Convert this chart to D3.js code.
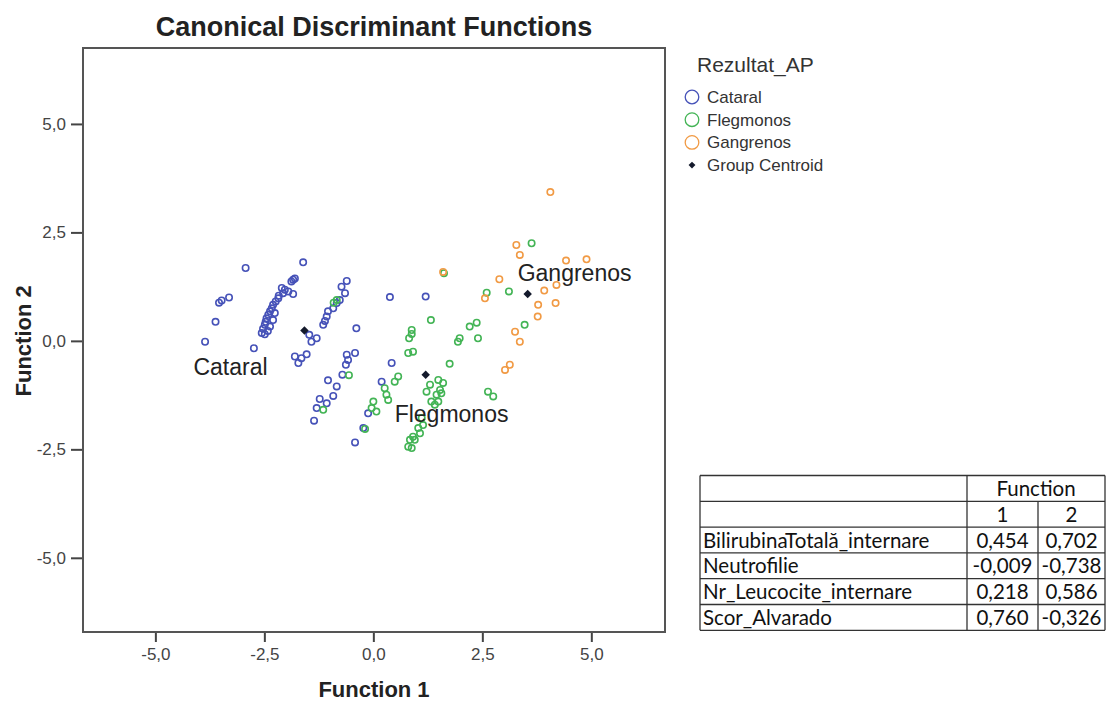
<!DOCTYPE html>
<html>
<head>
<meta charset="utf-8">
<script src="https://cdn.jsdelivr.net/npm/d3@7"></script>
<style>
  html, body { margin: 0; padding: 0; background: #fff; }
  svg { display: block; }
</style>
</head>
<body>
<svg id="chart" width="1107" height="704"></svg>
<script>
// Discriminant scores (Function 1, Function 2)
const cataralF1 = [-2.93, -1.61, -3.31, -3.48, -3.54, -3.62, -3.86, -2.74, -1.84, -1.80, -1.88, -2.03, -2.07, -1.95,
  -1.84, -2.18, -2.24, -2.30, -2.33, -2.37, -2.41, -2.45, -2.47, -2.49, -2.53, -2.56, -2.49, -2.37, -2.30, -2.26,
  -2.42, -2.17, -2.10, -1.47, -1.42, -1.30, -1.80, -1.72, -1.65, -1.53, -0.61, -0.73, -0.65, -0.77, -0.84, -0.92,
  -1.04, -1.07, -1.11, -1.15, -0.39, -0.61, -0.42, -0.58, -0.63, -0.71, 0.42, 1.20, 0.38, 0.19, -1.04, -0.84,
  -0.92, -1.23, -1.07, -1.30, -1.36, -0.12, -0.42, -0.23];
const cataralF2 = [1.68, 1.81, 1.00, 0.93, 0.88, 0.44, -0.02, -0.17, 1.41, 1.44, 1.37, 1.18, 1.10, 1.14,
  1.08, 0.98, 0.91, 0.83, 0.75, 0.68, 0.60, 0.52, 0.44, 0.37, 0.28, 0.18, 0.15, 0.33, 0.48, 0.64,
  0.23, 1.04, 1.22, 0.14, -0.02, 0.06, -0.36, -0.51, -0.40, -0.31, 1.38, 1.25, 1.10, 0.94, 0.87, 0.75,
  0.68, 0.56, 0.46, 0.37, 0.29, -0.32, -0.28, -0.44, -0.55, -0.78, -0.51, 1.02, 1.01, -0.94, -0.91, -1.05,
  -1.27, -1.34, -1.44, -1.55, -1.84, -1.67, -2.34, -2.01];

const flegmonosF1 = [-0.84, -0.91, -0.56, -1.15, 0.00, -0.04, 0.07, -0.19, 0.26, 0.30, 0.34, 0.57, 0.49, 1.75,
  1.49, 1.60, 1.53, 1.56, 1.45, 1.49, 1.33, 1.41, 1.22, 1.11, 1.14, 1.03, 1.07, 0.91, 0.84, 0.95,
  0.80, 0.88, 0.88, 0.82, 0.91, 0.80, 1.32, 2.21, 2.37, 2.40, 1.94, 1.98, 2.63, 2.75, 2.60, 3.11,
  3.47, 3.63, 1.62, 0.88, 1.30];
const flegmonosF2 = [0.94, 0.88, -0.79, -1.59, -1.40, -1.55, -1.63, -2.03, -1.09, -1.24, -1.36, -0.82, -0.94, -0.53,
  -0.90, -0.97, -1.13, -1.21, -1.24, -1.40, -1.40, -1.47, -1.17, -1.78, -1.94, -2.01, -2.13, -2.21, -2.28, -2.28,
  -2.44, -2.47, 0.25, 0.06, -0.25, -0.28, 0.48, 0.33, 0.42, 0.06, -0.02, 0.06, -1.17, -1.28, 1.11, 1.14,
  0.37, 2.25, 1.56, 0.16, -1.01];

const gangrenosF1 = [4.06, 3.28, 3.36, 4.42, 4.89, 2.89, 4.20, 2.56, 3.92, 3.78, 4.18, 3.77, 3.25, 3.36, 3.13, 3.02, 1.60];
const gangrenosF2 = [3.43, 2.21, 1.98, 1.85, 1.88, 1.42, 1.29, 0.98, 1.16, 0.83, 0.87, 0.56, 0.21, -0.02, -0.55, -0.67, 1.59];

const groupNames = ["Cataral", "Flegmonos", "Gangrenos"];
const groupColors = ["#4652b8", "#43b455", "#f19a44"];
const centroidF1 = [-1.58, 1.20, 3.54];
const centroidF2 = [0.24, -0.78, 1.08];

const xTicks = [-5, -2.5, 0, 2.5, 5];
const yTicks = [-5, -2.5, 0, 2.5, 5];

// Structure matrix table
const tableVars = ["BilirubinaTotală_internare", "Neutrofilie", "Nr_Leucocite_internare", "Scor_Alvarado"];
const func1Coef = ["0,454", "-0,009", "0,218", "0,760"];
const func2Coef = ["0,702", "-0,738", "0,586", "-0,326"];

const svg = d3.select("#chart");
const arial = "'Liberation Sans', Arial, sans-serif";

const plot = { left: 83, right: 665, top: 48, bottom: 632 };

const x = d3.scaleLinear().domain([-6.66, 6.69]).range([plot.left, plot.right]);
const y = d3.scaleLinear().domain([-6.71, 6.75]).range([plot.bottom, plot.top]);
const fmt = d => d3.format(".1f")(d).replace(".", ",").replace("−", "-");

// title
svg.append("text")
  .attr("x", (plot.left + plot.right) / 2).attr("y", 36)
  .attr("text-anchor", "middle")
  .style("font-family", arial).style("font-weight", "bold").style("font-size", "27px")
  .attr("fill", "#222")
  .text("Canonical Discriminant Functions");

// axes
const xAxis = d3.axisBottom(x).tickValues(xTicks).tickFormat(fmt).tickSize(10).tickPadding(6);
const yAxis = d3.axisLeft(y).tickValues(yTicks).tickFormat(fmt).tickSize(12).tickPadding(5);

const gx = svg.append("g").attr("transform", `translate(0,${plot.bottom})`).call(xAxis);
const gy = svg.append("g").attr("transform", `translate(${plot.left},0)`).call(yAxis);
[gx, gy].forEach(g => {
  g.select(".domain").remove();
  g.selectAll(".tick line").attr("stroke", "#444").attr("stroke-width", 2);
  g.selectAll(".tick text").attr("fill", "#444")
    .style("font-family", arial).style("font-size", "17px");
});

svg.append("rect")
  .attr("x", plot.left).attr("y", plot.top)
  .attr("width", plot.right - plot.left).attr("height", plot.bottom - plot.top)
  .attr("fill", "none").attr("stroke", "#555").attr("stroke-width", 2);

svg.append("text")
  .attr("x", (plot.left + plot.right) / 2).attr("y", 697)
  .attr("text-anchor", "middle")
  .style("font-family", arial).style("font-weight", "bold").style("font-size", "22px")
  .attr("fill", "#222")
  .text("Function 1");

svg.append("text")
  .attr("transform", `translate(31,${y(0)}) rotate(-90)`)
  .attr("text-anchor", "middle")
  .style("font-family", arial).style("font-weight", "bold").style("font-size", "22px")
  .attr("fill", "#222")
  .text("Function 2");

// points
const groups = [
  { f1: cataralF1, f2: cataralF2 },
  { f1: flegmonosF1, f2: flegmonosF2 },
  { f1: gangrenosF1, f2: gangrenosF2 }
];
groups.forEach((g, i) => {
  svg.append("g").selectAll("circle")
    .data(g.f1.map((v, j) => [v, g.f2[j]]))
    .join("circle")
    .attr("cx", d => x(d[0])).attr("cy", d => y(d[1]))
    .attr("r", 3.2)
    .attr("fill", "none")
    .attr("stroke", groupColors[i])
    .attr("stroke-width", 1.6);
});

// centroids
const diamond = d3.symbol().type(d3.symbolDiamond2).size(46);
svg.append("g").selectAll("path")
  .data(centroidF1.map((v, i) => [v, centroidF2[i]]))
  .join("path")
  .attr("d", diamond)
  .attr("transform", d => `translate(${x(d[0])},${y(d[1])})`)
  .attr("fill", "#141a2c");

const labelOffsets = [[-111, 45], [-31, 47], [-10, -13]];
svg.append("g").selectAll("text")
  .data(groupNames)
  .join("text")
  .attr("x", (d, i) => x(centroidF1[i]) + labelOffsets[i][0])
  .attr("y", (d, i) => y(centroidF2[i]) + labelOffsets[i][1])
  .style("font-family", arial).style("font-size", "23px")
  .attr("fill", "#222")
  .text(d => d);

// legend
const legend = svg.append("g").attr("transform", "translate(692,0)");
legend.append("text")
  .attr("x", 5).attr("y", 72)
  .style("font-family", arial).style("font-size", "21px").attr("fill", "#333")
  .text("Rezultat_AP");
const legendItems = groupNames.concat(["Group Centroid"]);
legendItems.forEach((name, i) => {
  const cy = 97 + i * 22.7;
  if (i < 3) {
    legend.append("circle").attr("cx", 0).attr("cy", cy).attr("r", 6.8)
      .attr("fill", "none").attr("stroke", groupColors[i]).attr("stroke-width", 1.3);
  } else {
    legend.append("path").attr("d", d3.symbol().type(d3.symbolDiamond2).size(30))
      .attr("transform", `translate(0,${cy})`).attr("fill", "#141a2c");
  }
  legend.append("text")
    .attr("x", 15).attr("y", cy + 6)
    .style("font-family", arial).style("font-size", "17px").attr("fill", "#333")
    .text(name);
});

// table
const tbl = svg.append("g");
const colX = [700, 967, 1038, 1105];
const rowH = 25.8;
const tableTop = 475.5;
const nRows = 2 + tableVars.length;
const line = (x1, y1, x2, y2) => tbl.append("line")
  .attr("x1", x1).attr("y1", y1).attr("x2", x2).attr("y2", y2)
  .attr("stroke", "#333").attr("stroke-width", 1.3);
for (let r = 0; r <= nRows; r++) line(colX[0], tableTop + r * rowH, colX[3], tableTop + r * rowH);
line(colX[0], tableTop, colX[0], tableTop + nRows * rowH);
line(colX[1], tableTop, colX[1], tableTop + nRows * rowH);
line(colX[2], tableTop + rowH, colX[2], tableTop + nRows * rowH);
line(colX[3], tableTop, colX[3], tableTop + nRows * rowH);

const cell = (txt, cx, r, anchor) => tbl.append("text")
  .attr("x", cx).attr("y", tableTop + r * rowH + 20.5)
  .attr("text-anchor", anchor)
  .style("font-family", "Lato, 'Open Sans', sans-serif").style("font-size", "20.5px")
  .attr("fill", "#111")
  .text(txt);
cell("Function", (colX[1] + colX[3]) / 2, 0, "middle");
cell("1", (colX[1] + colX[2]) / 2, 1, "middle");
cell("2", (colX[2] + colX[3]) / 2, 1, "middle");
tableVars.forEach((v, i) => {
  cell(v, colX[0] + 3, i + 2, "start");
  cell(func1Coef[i], (colX[1] + colX[2]) / 2, i + 2, "middle");
  cell(func2Coef[i], (colX[2] + colX[3]) / 2, i + 2, "middle");
});
</script>
</body>
</html>
